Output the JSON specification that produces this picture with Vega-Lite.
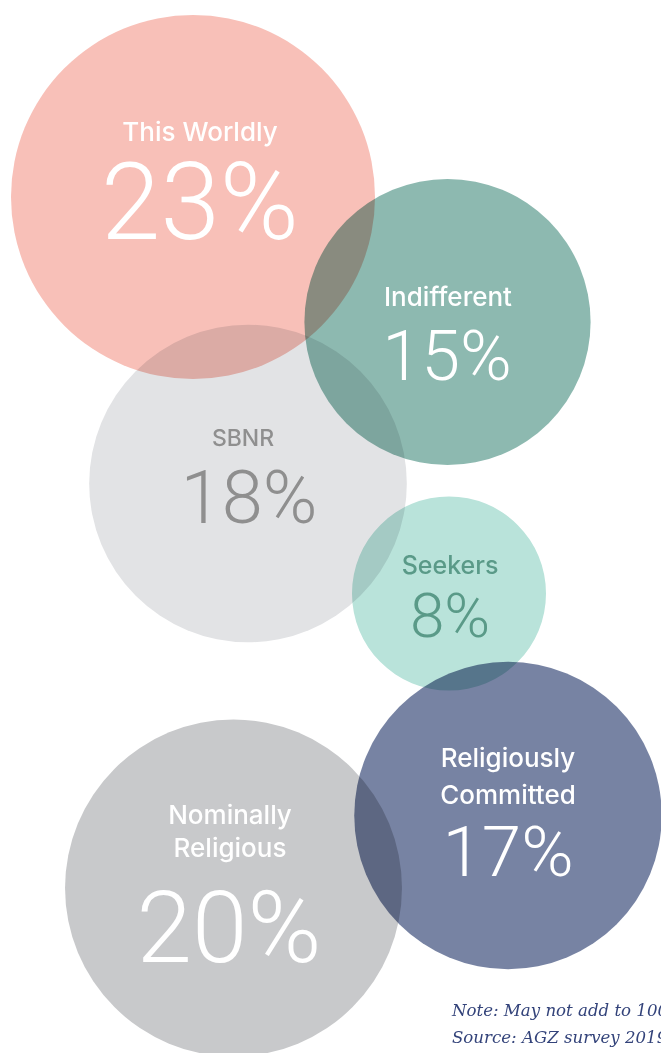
{
  "$schema": "https://vega.github.io/schema/vega-lite/v6.json",
  "width": 661,
  "height": 1053,
  "padding": 0,
  "autosize": "none",
  "background": "white",
  "config": {"view": {"stroke": null}},
  "datasets": {
    "bubbles": [
      {"group": "This Worldly", "pct": 23, "cx": 193, "cy": 197},
      {"group": "Indifferent", "pct": 15, "cx": 447.5, "cy": 322},
      {"group": "SBNR", "pct": 18, "cx": 248, "cy": 483.5},
      {"group": "Seekers", "pct": 8, "cx": 449, "cy": 593.5},
      {"group": "Religiously Committed", "pct": 17, "cx": 508, "cy": 815.5},
      {"group": "Nominally Religious", "pct": 20, "cx": 233.5, "cy": 888}
    ],
    "labels": [
      {"group": "This Worldly", "role": "name", "text": "This Worldly", "lx": 200, "ly": 141},
      {"group": "Indifferent", "role": "name", "text": "Indifferent", "lx": 448, "ly": 306},
      {"group": "SBNR", "role": "name", "text": "SBNR", "lx": 243, "ly": 446},
      {"group": "Seekers", "role": "name", "text": "Seekers", "lx": 450, "ly": 574},
      {"group": "Religiously Committed", "role": "name", "text": "Religiously", "lx": 508, "ly": 767},
      {"group": "Religiously Committed", "role": "name", "text": "Committed", "lx": 508, "ly": 804},
      {"group": "Nominally Religious", "role": "name", "text": "Nominally", "lx": 230, "ly": 824},
      {"group": "Nominally Religious", "role": "name", "text": "Religious", "lx": 230, "ly": 857},
      {"group": "This Worldly", "role": "pct", "text": "23%", "lx": 200, "ly": 239},
      {"group": "Indifferent", "role": "pct", "text": "15%", "lx": 447, "ly": 380},
      {"group": "SBNR", "role": "pct", "text": "18%", "lx": 249, "ly": 523},
      {"group": "Seekers", "role": "pct", "text": "8%", "lx": 450, "ly": 637},
      {"group": "Religiously Committed", "role": "pct", "text": "17%", "lx": 508, "ly": 876},
      {"group": "Nominally Religious", "role": "pct", "text": "20%", "lx": 229, "ly": 962}
    ],
    "notes": [
      {"text": "Note: May not add to 100%", "lx": 452, "ly": 1016},
      {"text": "Source: AGZ survey 2019", "lx": 452, "ly": 1043}
    ]
  },
  "layer": [
    {
      "data": {"name": "bubbles"},
      "mark": {"type": "circle", "opacity": 1, "blend": "multiply", "strokeWidth": 0},
      "encoding": {
        "x": {"field": "cx", "type": "quantitative", "scale": {"domain": [0, 661], "nice": false, "zero": false}, "axis": null},
        "y": {"field": "cy", "type": "quantitative", "scale": {"domain": [0, 1053], "nice": false, "zero": false, "reverse": true}, "axis": null},
        "size": {"field": "pct", "type": "quantitative", "scale": {"domain": [8, 23], "range": [37636, 132496], "zero": false}, "legend": null},
        "color": {"field": "group", "type": "nominal", "legend": null,
          "scale": {"domain": ["This Worldly", "Indifferent", "SBNR", "Seekers", "Religiously Committed", "Nominally Religious"],
                    "range": ["#f8c0b8", "#8db9b0", "#e2e3e5", "#b9e3da", "#7783a3", "#c8c9cb"]}}
      }
    },
    {
      "data": {"name": "labels"},
      "transform": [{"filter": "datum.role === 'name'"}],
      "mark": {"type": "text", "font": "Inter", "fontWeight": 500, "align": "center", "baseline": "alphabetic"},
      "encoding": {
        "x": {"field": "lx", "type": "quantitative"},
        "y": {"field": "ly", "type": "quantitative"},
        "text": {"field": "text"},
        "size": {"condition": [
            {"test": "datum.group === 'SBNR'", "value": 23},
            {"test": "datum.group === 'Seekers'", "value": 25}
          ], "value": 26},
        "color": {"field": "group", "type": "nominal", "legend": null,
          "scale": {"domain": ["This Worldly", "Indifferent", "SBNR", "Seekers", "Religiously Committed", "Nominally Religious"],
                    "range": ["#ffffff", "#ffffff", "#8f8f8f", "#5a9a88", "#ffffff", "#ffffff"]}}
      }
    },
    {
      "data": {"name": "labels"},
      "transform": [{"filter": "datum.role === 'pct'"}],
      "mark": {"type": "text", "font": "Roboto", "fontWeight": 300, "align": "center", "baseline": "alphabetic"},
      "encoding": {
        "x": {"field": "lx", "type": "quantitative"},
        "y": {"field": "ly", "type": "quantitative"},
        "text": {"field": "text"},
        "size": {"condition": [
            {"test": "datum.group === 'Indifferent'", "value": 70},
            {"test": "datum.group === 'SBNR'", "value": 74},
            {"test": "datum.group === 'Seekers'", "value": 62},
            {"test": "datum.group === 'Religiously Committed'", "value": 71},
            {"test": "datum.group === 'Nominally Religious'", "value": 100}
          ], "value": 107},
        "color": {"field": "group", "type": "nominal", "legend": null,
          "scale": {"domain": ["This Worldly", "Indifferent", "SBNR", "Seekers", "Religiously Committed", "Nominally Religious"],
                    "range": ["#ffffff", "#ffffff", "#8f8f8f", "#5a9a88", "#ffffff", "#ffffff"]}}
      }
    },
    {
      "data": {"name": "notes"},
      "mark": {"type": "text", "font": "DejaVu Serif", "fontStyle": "italic", "fontSize": 16.6, "align": "left", "baseline": "alphabetic", "color": "#33437a"},
      "encoding": {
        "x": {"field": "lx", "type": "quantitative"},
        "y": {"field": "ly", "type": "quantitative"},
        "text": {"field": "text"}
      }
    }
  ],
  "resolve": {"scale": {"color": "independent", "size": "independent"}}
}
